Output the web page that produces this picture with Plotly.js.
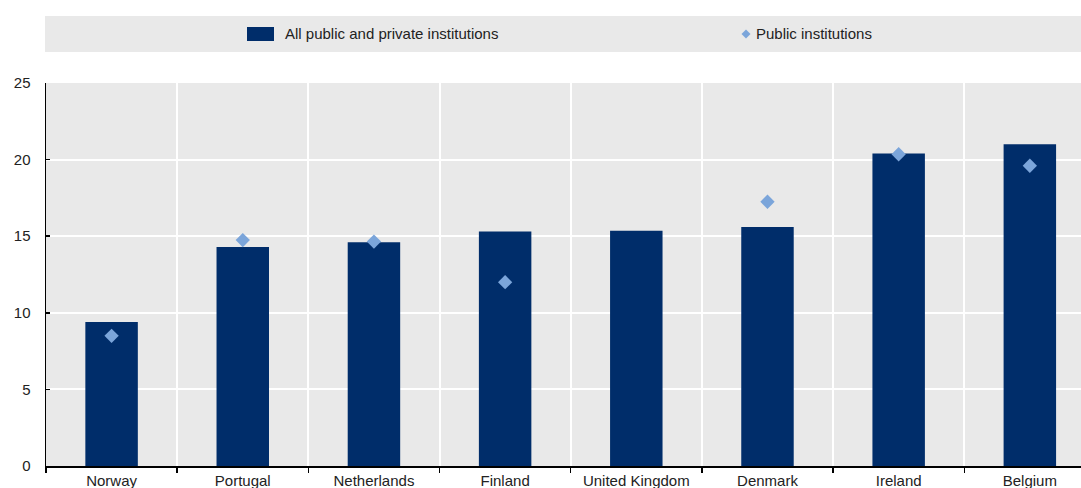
<!DOCTYPE html>
<html>
<head>
<meta charset="utf-8">
<script src="https://cdn.plot.ly/plotly-3.0.1.min.js"></script>
<style>
  html, body { margin: 0; padding: 0; background: #ffffff; overflow: hidden; }
  #chart { width: 1081px; height: 488px; }
</style>
</head>
<body>
<div id="chart"></div>
<script>
// Countries, ordered by the all-institutions value
const countries = ["Norway", "Portugal", "Netherlands", "Finland", "United Kingdom", "Denmark", "Ireland", "Belgium"];
// All public and private institutions
const allInstitutions = [9.4, 14.3, 14.6, 15.3, 15.35, 15.6, 20.4, 21.0];
// Public institutions (no value for the United Kingdom)
const publicInstitutions = [8.5, 14.75, 14.65, 12.0, null, 17.25, 20.35, 19.6];

const seriesNames = ["All public and private institutions", "Public institutions"];
const yTicks = [0, 5, 10, 15, 20, 25];

const W = 1081, H = 488;
const M = { l: 46, r: 0, t: 83, b: 22 };
const plotW = W - M.l - M.r, plotH = H - M.t - M.b;
// pixel -> paper helpers for the legend band
const px = x => (x - M.l) / plotW;
const py = y => (H - M.b - y) / plotH;

const navy = "#002D6A";
const lightBlue = "#7BA5DA";
const panel = "#E9E9E9";
const textColor = "#222222";
const font = { family: "Liberation Sans, Arial, sans-serif", size: 15, color: textColor };

const traces = [
  {
    type: "bar",
    name: seriesNames[0],
    x: countries,
    y: allInstitutions,
    width: 0.4,
    marker: { color: navy },
    showlegend: false,
    hoverinfo: "x+y"
  },
  {
    type: "scatter",
    mode: "markers",
    name: seriesNames[1],
    x: countries,
    y: publicInstitutions,
    marker: { symbol: "diamond", size: 11, color: lightBlue },
    showlegend: false,
    hoverinfo: "x+y"
  }
];

const bandTop = 16, bandBottom = 52, bandMid = (bandTop + bandBottom) / 2;

const layout = {
  width: W,
  height: H,
  margin: M,
  paper_bgcolor: "#ffffff",
  plot_bgcolor: panel,
  font: font,
  showlegend: false,
  xaxis: {
    type: "category",
    range: [-0.5, 7.39],
    tickson: "boundaries",
    tickangle: 0,
    ticks: "outside",
    ticklen: 5,
    tickwidth: 1.5,
    tickcolor: "#000000",
    showline: true,
    linecolor: "#000000",
    linewidth: 1.5,
    showgrid: true,
    gridcolor: "#ffffff",
    gridwidth: 2,
    tickfont: font,
    automargin: false,
    fixedrange: true
  },
  yaxis: {
    range: [0, 25],
    tickvals: yTicks,
    ticktext: yTicks.map(String),
    ticks: "inside",
    ticklen: 4,
    tickwidth: 1.5,
    tickcolor: "#000000",
    showline: true,
    linecolor: "#000000",
    linewidth: 1.5,
    showgrid: true,
    gridcolor: "#ffffff",
    gridwidth: 2,
    zeroline: false,
    ticklabelstandoff: 11,
    tickfont: font,
    automargin: false,
    fixedrange: true
  },
  shapes: [
    // legend band
    {
      type: "rect", xref: "paper", yref: "paper",
      x0: px(45), x1: px(W), y0: py(bandBottom), y1: py(bandTop),
      fillcolor: panel, line: { width: 0 }, layer: "below"
    },
    // bar swatch
    {
      type: "rect", xref: "paper", yref: "paper",
      x0: px(247), x1: px(274), y0: py(41), y1: py(27),
      fillcolor: navy, line: { width: 0 }
    },
    // diamond swatch
    {
      type: "path", xref: "paper", yref: "paper",
      path: (() => {
        const cx = 746, cy = bandMid, r = 4.5;
        return "M" + px(cx) + "," + py(cy - r) +
               " L" + px(cx + r) + "," + py(cy) +
               " L" + px(cx) + "," + py(cy + r) +
               " L" + px(cx - r) + "," + py(cy) + " Z";
      })(),
      fillcolor: lightBlue, line: { width: 0 }
    }
  ],
  annotations: [
    {
      xref: "paper", yref: "paper", x: px(283), y: py(bandMid),
      xanchor: "left", yanchor: "middle", showarrow: false,
      text: seriesNames[0], font: font
    },
    {
      xref: "paper", yref: "paper", x: px(754), y: py(bandMid),
      xanchor: "left", yanchor: "middle", showarrow: false,
      text: seriesNames[1], font: font
    }
  ]
};

Plotly.newPlot("chart", traces, layout, { displayModeBar: false, staticPlot: true });
</script>
</body>
</html>
